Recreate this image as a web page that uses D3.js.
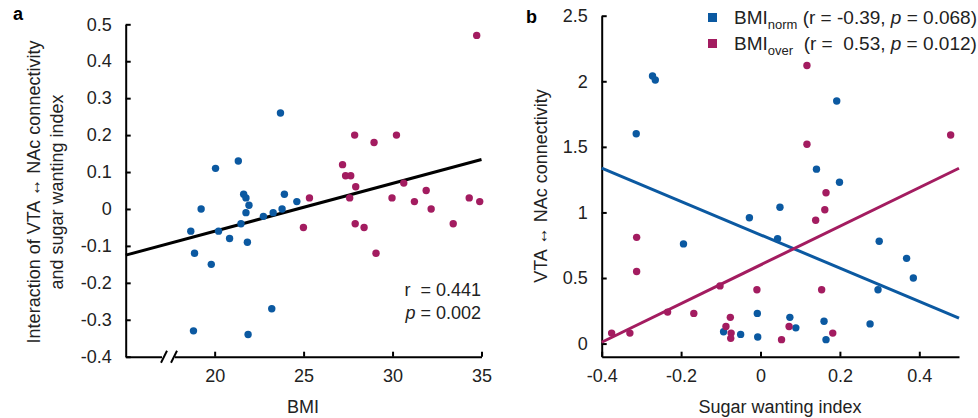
<!DOCTYPE html>
<html>
<head>
<meta charset="utf-8">
<script src="https://cdn.jsdelivr.net/npm/d3@7"></script>
<style>
  body { margin: 0; background: #fff; }
  svg { display: block; font-family: "Liberation Sans", Arial, sans-serif; }
  .axis path, .axis line { stroke: #000; stroke-width: 2; }
  .axis text { font-size: 18px; fill: #222; }
</style>
</head>
<body>
<svg width="978" height="418"></svg>
<script>
// panel a: BMI vs interaction
const aNormBMI = [19.24, 23.79, 23.70, 21.33, 20.05, 21.63, 21.76, 21.93, 23.92, 24.62, 21.76, 22.74, 23.29, 18.66, 20.22, 21.48, 20.84, 21.84, 18.87, 19.81, 23.21, 18.81, 21.88];
const aNormInter = [0.00, 0.00, 0.26, 0.13, 0.11, 0.04, 0.03, 0.01, 0.04, 0.02, -0.01, -0.02, -0.01, -0.06, -0.06, -0.04, -0.08, -0.09, -0.12, -0.15, -0.27, -0.33, -0.34];
const aOverBMI = [34.73, 27.87, 30.22, 28.96, 27.19, 27.36, 27.65, 27.93, 30.63, 31.89, 25.33, 27.59, 29.97, 31.23, 34.31, 34.90, 32.17, 27.90, 28.40, 24.99, 33.41, 29.07];
const aOverInter = [0.47, 0.20, 0.20, 0.18, 0.12, 0.09, 0.09, 0.06, 0.07, 0.05, 0.03, 0.03, 0.03, 0.02, 0.03, 0.02, 0.00, -0.04, -0.05, -0.05, -0.04, -0.12];
const aFitX = [15, 35];
const aFitY = [-0.125, 0.134];
const aXTicks = [20, 25, 30, 35];
const aYTicks = [-0.4, -0.3, -0.2, -0.1, 0, 0.1, 0.2, 0.3, 0.4, 0.5];

// panel b: sugar wanting vs connectivity
const bNormWant = [-0.272, -0.265, -0.313, 0.192, 0.141, 0.199, 0.049, -0.028, -0.194, 0.043, 0.299, 0.368, 0.385, 0.296, -0.008, 0.074, 0.160, 0.276, 0.089, -0.093, -0.050, -0.007, 0.165];
const bNormConn = [2.04, 2.01, 1.60, 1.85, 1.33, 1.23, 1.04, 0.96, 0.76, 0.80, 0.78, 0.65, 0.50, 0.41, 0.23, 0.20, 0.17, 0.15, 0.12, 0.09, 0.07, 0.05, 0.03];
const bOverWant = [0.117, 0.479, 0.117, 0.165, 0.162, 0.139, -0.312, -0.312, -0.102, -0.009, 0.154, -0.234, -0.168, -0.076, -0.087, 0.072, -0.375, -0.329, -0.074, 0.182, -0.075, 0.053];
const bOverConn = [2.12, 1.59, 1.52, 1.15, 1.02, 0.94, 0.81, 0.55, 0.44, 0.41, 0.41, 0.24, 0.23, 0.20, 0.13, 0.13, 0.08, 0.08, 0.08, 0.08, 0.04, 0.03];
const bFitX = [-0.4, 0.5];
const bNormFitY = [1.337, 0.195];
const bOverFitY = [0.01, 1.337];
const bXTicks = [-0.4, -0.2, 0, 0.2, 0.4];
const bYTicks = [0, 0.5, 1, 1.5, 2, 2.5];

const blue = "#0b59a1", magenta = "#a31c60";
const svg = d3.select("svg");
const zip = (xs, ys) => xs.map((x, i) => [x, ys[i]]);
const fmt = d => (d < 0 ? "-" : "") + d3.format("~g")(Math.abs(d));

// ---------- panel a ----------
const xa = d3.scaleLinear().domain([15, 35]).range([125.7, 481.5]);
const ya = d3.scaleLinear().domain([-0.4, 0.5]).range([356.7, 24.3]);

const gax = svg.append("g").attr("class", "axis").attr("transform", "translate(0,356.7)")
  .call(d3.axisBottom(xa).tickValues(aXTicks).tickSizeInner(-5).tickSizeOuter(0).tickPadding(13));
svg.append("g").attr("class", "axis").attr("transform", "translate(125.7,0)")
  .call(d3.axisLeft(ya).tickValues(aYTicks).tickFormat(fmt).tickSizeInner(-5).tickSizeOuter(0).tickPadding(14));

// axis break
gax.append("rect").attr("x", 162).attr("y", -3).attr("width", 13).attr("height", 6).attr("fill", "#fff");
[161, 171].forEach(x0 => {
  gax.append("line").attr("x1", x0).attr("y1", 6).attr("x2", x0 + 6).attr("y2", -6)
    .attr("stroke", "#000").attr("stroke-width", 1.8);
});

svg.append("line")
  .attr("x1", xa(aFitX[0])).attr("y1", ya(aFitY[0]))
  .attr("x2", xa(aFitX[1])).attr("y2", ya(aFitY[1]))
  .attr("stroke", "#000").attr("stroke-width", 3);

svg.append("g").selectAll("circle").data(zip(aNormBMI, aNormInter)).join("circle")
  .attr("cx", d => xa(d[0])).attr("cy", d => ya(d[1])).attr("r", 3.7).attr("fill", blue);
svg.append("g").selectAll("circle").data(zip(aOverBMI, aOverInter)).join("circle")
  .attr("cx", d => xa(d[0])).attr("cy", d => ya(d[1])).attr("r", 3.7).attr("fill", magenta);

const ann = svg.append("g").attr("font-size", 18).attr("fill", "#222").attr("text-anchor", "end");
ann.append("text").attr("x", 481).attr("y", 296).attr("xml:space", "preserve").text("r  = 0.441");
const p2 = ann.append("text").attr("x", 481).attr("y", 319);
p2.append("tspan").attr("font-style", "italic").text("p");
p2.append("tspan").text(" = 0.002");

svg.append("text").attr("x", 303).attr("y", 413).attr("text-anchor", "middle")
  .attr("font-size", 18).attr("fill", "#222").text("BMI");
const yt = svg.append("text").attr("transform", "translate(0,192) rotate(-90)")
  .attr("text-anchor", "middle").attr("font-size", 18).attr("fill", "#222");
yt.append("tspan").attr("x", 0).attr("y", 40).text("Interaction of VTA \u2194 NAc connectivity");
yt.append("tspan").attr("x", 0).attr("y", 63).text("and sugar wanting index");

svg.append("text").attr("x", 13).attr("y", 20).attr("font-size", 18).attr("font-weight", "bold").text("a");

// ---------- panel b ----------
const xb = d3.scaleLinear().domain([-0.4, 0.5]).range([601.7, 959]);
const yb = d3.scaleLinear().domain([-0.1, 2.5]).range([356.7, 15.7]);

svg.append("g").attr("class", "axis").attr("transform", "translate(0,356.7)")
  .call(d3.axisBottom(xb).tickValues(bXTicks).tickFormat(fmt).tickSizeInner(-5).tickSizeOuter(0).tickPadding(13));
svg.append("g").attr("class", "axis").attr("transform", "translate(601.7,0)")
  .call(d3.axisLeft(yb).tickValues(bYTicks).tickFormat(fmt).tickSizeInner(-5).tickSizeOuter(0).tickPadding(14));

[[bNormFitY, blue], [bOverFitY, magenta]].forEach(([fy, c]) => {
  svg.append("line")
    .attr("x1", xb(bFitX[0])).attr("y1", yb(fy[0]))
    .attr("x2", xb(bFitX[1])).attr("y2", yb(fy[1]))
    .attr("stroke", c).attr("stroke-width", 3);
});

svg.append("g").selectAll("circle").data(zip(bNormWant, bNormConn)).join("circle")
  .attr("cx", d => xb(d[0])).attr("cy", d => yb(d[1])).attr("r", 3.7).attr("fill", blue);
svg.append("g").selectAll("circle").data(zip(bOverWant, bOverConn)).join("circle")
  .attr("cx", d => xb(d[0])).attr("cy", d => yb(d[1])).attr("r", 3.7).attr("fill", magenta);

svg.append("text").attr("x", 780).attr("y", 413).attr("text-anchor", "middle")
  .attr("font-size", 18).attr("fill", "#222").text("Sugar wanting index");
svg.append("text").attr("transform", "translate(547,186) rotate(-90)")
  .attr("text-anchor", "middle").attr("font-size", 18).attr("fill", "#222")
  .text("VTA \u2194 NAc connectivity");

svg.append("text").attr("x", 526).attr("y", 23).attr("font-size", 18).attr("font-weight", "bold").text("b");

// legend
const legend = [
  { sub: "norm", rest: " (r = -0.39, ", pval: " = 0.068)", color: blue },
  { sub: "over", rest: "  (r =  0.53, ", pval: " = 0.012)", color: magenta }
];
const lg = svg.append("g").attr("font-size", 19).attr("fill", "#222");
legend.forEach((d, i) => {
  const y = 24 + i * 26;
  lg.append("rect").attr("x", 708).attr("y", y - 11).attr("width", 9).attr("height", 9).attr("fill", d.color);
  const t = lg.append("text").attr("x", 734).attr("y", y).attr("xml:space", "preserve");
  t.append("tspan").text("BMI");
  t.append("tspan").attr("font-size", 13).attr("dy", 5).text(d.sub);
  t.append("tspan").attr("dy", -5).text(d.rest);
  t.append("tspan").attr("font-style", "italic").text("p");
  t.append("tspan").text(d.pval);
});
</script>
</body>
</html>
